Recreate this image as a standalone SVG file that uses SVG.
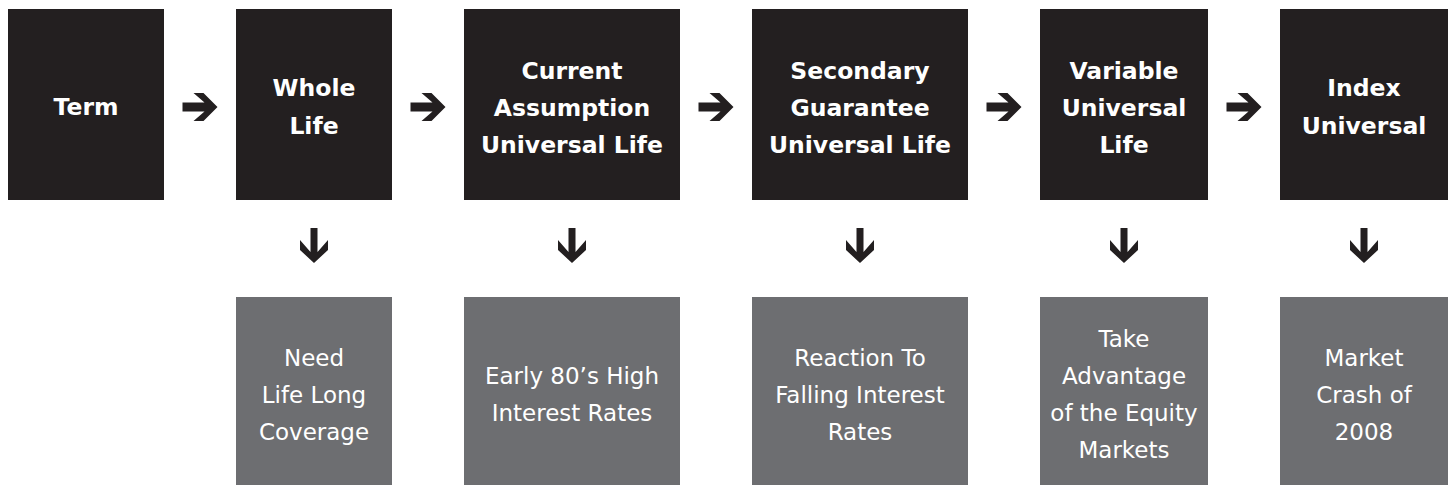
<svg xmlns="http://www.w3.org/2000/svg" xmlns:xlink="http://www.w3.org/1999/xlink" width="1453" height="485" viewBox="0 0 1453 485">
  <style>
    .top { fill: #231f20; }
    .bot { fill: #6d6e71; }
    .tt { fill: #ffffff; font-family: "DejaVu Sans", Verdana, sans-serif; font-weight: bold; font-size: 23.5px; text-anchor: middle; }
    .bt { fill: #ffffff; font-family: "DejaVu Sans", Verdana, sans-serif; font-size: 23px; text-anchor: middle; }
    .arr { fill: #231f20; }
  </style>
  <defs>
    <path id="arrR" d="M0,-4.5 L22,-4.5 L11,-14 L21,-14 L35,0 L21,14 L11,14 L22,4.5 L0,4.5 Z"/>
    <path id="arrD" d="M-3.5,0 L3.5,0 L3.5,24 L14,12 L14,22 L0,35 L-14,22 L-14,12 L-3.5,24 Z"/>
  </defs>
  <rect width="1453" height="485" fill="#ffffff"/>

  <g id="node-term">
    <rect class="top" x="8" y="9" width="156" height="191"/>
    <text class="tt" x="86" y="115">Term</text>
  </g>
  <g id="node-whole-life">
    <rect class="top" x="236" y="9" width="156" height="191"/>
    <text class="tt" x="314" y="96">Whole</text>
    <text class="tt" x="314" y="133.5">Life</text>
  </g>
  <g id="node-current-assumption">
    <rect class="top" x="464" y="9" width="216" height="191"/>
    <text class="tt" x="572" y="78.5">Current</text>
    <text class="tt" x="572" y="115.5">Assumption</text>
    <text class="tt" x="572" y="152.5">Universal Life</text>
  </g>
  <g id="node-secondary-guarantee">
    <rect class="top" x="752" y="9" width="216" height="191"/>
    <text class="tt" x="860" y="78.5">Secondary</text>
    <text class="tt" x="860" y="115.5">Guarantee</text>
    <text class="tt" x="860" y="152.5">Universal Life</text>
  </g>
  <g id="node-variable-universal">
    <rect class="top" x="1040" y="9" width="168" height="191"/>
    <text class="tt" x="1124" y="78.5">Variable</text>
    <text class="tt" x="1124" y="115.5">Universal</text>
    <text class="tt" x="1124" y="152.5">Life</text>
  </g>
  <g id="node-index-universal">
    <rect class="top" x="1280" y="9" width="168" height="191"/>
    <text class="tt" x="1364" y="96">Index</text>
    <text class="tt" x="1364" y="133.5">Universal</text>
  </g>

  <g id="node-need">
    <rect class="bot" x="236" y="297" width="156" height="188"/>
    <text class="bt" x="314" y="366">Need</text>
    <text class="bt" x="314" y="403">Life Long</text>
    <text class="bt" x="314" y="440">Coverage</text>
  </g>
  <g id="node-early-80s">
    <rect class="bot" x="464" y="297" width="216" height="188"/>
    <text class="bt" x="572" y="384">Early 80’s High</text>
    <text class="bt" x="572" y="421">Interest Rates</text>
  </g>
  <g id="node-reaction">
    <rect class="bot" x="752" y="297" width="216" height="188"/>
    <text class="bt" x="860" y="366">Reaction To</text>
    <text class="bt" x="860" y="403">Falling Interest</text>
    <text class="bt" x="860" y="440">Rates</text>
  </g>
  <g id="node-take-advantage">
    <rect class="bot" x="1040" y="297" width="168" height="188"/>
    <text class="bt" x="1124" y="347">Take</text>
    <text class="bt" x="1124" y="384">Advantage</text>
    <text class="bt" x="1124" y="421">of the Equity</text>
    <text class="bt" x="1124" y="458">Markets</text>
  </g>
  <g id="node-market-crash">
    <rect class="bot" x="1280" y="297" width="168" height="188"/>
    <text class="bt" x="1364" y="366">Market</text>
    <text class="bt" x="1364" y="403">Crash of</text>
    <text class="bt" x="1364" y="440">2008</text>
  </g>

  <g id="connectors" class="arr">
    <use xlink:href="#arrR" x="182.5" y="107"/>
    <use xlink:href="#arrR" x="410.5" y="107"/>
    <use xlink:href="#arrR" x="698.5" y="107"/>
    <use xlink:href="#arrR" x="986.5" y="107"/>
    <use xlink:href="#arrR" x="1226.5" y="107"/>
    <use xlink:href="#arrD" x="314" y="228"/>
    <use xlink:href="#arrD" x="572" y="228"/>
    <use xlink:href="#arrD" x="860" y="228"/>
    <use xlink:href="#arrD" x="1124" y="228"/>
    <use xlink:href="#arrD" x="1364" y="228"/>
  </g>
</svg>
